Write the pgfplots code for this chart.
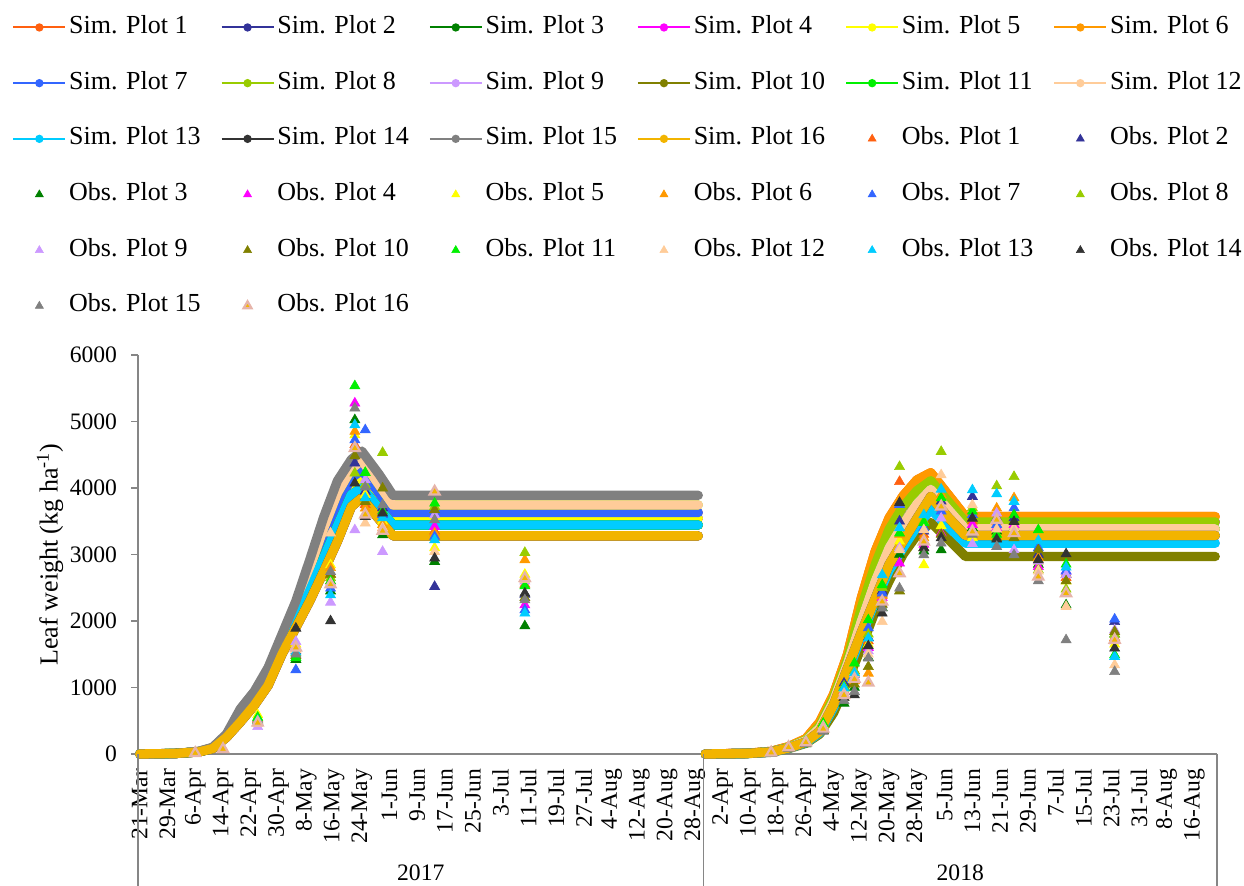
\documentclass[border=0pt]{standalone}
\usepackage{fontspec}
\setmainfont{Liberation Serif}
\usepackage{pgfplots}
\usepackage{pgfplotstable}
\pgfplotsset{compat=1.18}

\definecolor{c1}{HTML}{FF6010}
\definecolor{c2}{HTML}{333399}
\definecolor{c3}{HTML}{008000}
\definecolor{c4}{HTML}{FF00FF}
\definecolor{c5}{HTML}{FFFF00}
\definecolor{c6}{HTML}{FF9900}
\definecolor{c7}{HTML}{3366FF}
\definecolor{c8}{HTML}{99CC00}
\definecolor{c9}{HTML}{CC99FF}
\definecolor{c10}{HTML}{808000}
\definecolor{c11}{HTML}{00F000}
\definecolor{c12}{HTML}{FFCC99}
\definecolor{c13}{HTML}{00CCFF}
\definecolor{c14}{HTML}{333333}
\definecolor{c15}{HTML}{808080}
\definecolor{c16}{HTML}{F2B400}
\definecolor{o16edge}{HTML}{E6B4AA}
\definecolor{axgray}{HTML}{868686}

\pgfplotstableread{
x s1 s2 s3 s4 s5 s6 s7 s8 s9 s10 s11 s12 s13 s14 s15 s16
0 0 0 0 0 0 0 0 0 0 0 0 0 0 0 0 0
10 5 6 7 6 6 7 5 5 8 7 7 5 7 8 5 8
17 36 34 32 34 34 32 36 38 30 32 32 38 32 30 40 30
21 92 88 85 88 88 85 92 95 80 85 85 95 85 80 100 80
25 275 268 260 268 268 260 275 285 250 260 260 285 260 250 300 250
29 600 560 530 560 560 530 600 640 480 530 530 640 530 480 680 480
33 850 815 785 815 815 785 850 898 730 785 785 898 785 730 940 730
37 1190 1140 1100 1140 1140 1100 1190 1246 1030 1100 1100 1246 1100 1030 1300 1030
41 1680 1620 1575 1620 1620 1575 1680 1740 1500 1575 1575 1740 1575 1500 1800 1500
45 2140 2060 2000 2060 2060 2000 2140 2220 1900 2000 2000 2220 2000 1900 2300 1900
49 2670 2550 2455 2550 2550 2455 2670 2796 2300 2455 2455 2796 2455 2300 2920 2300
53 3230 3070 2945 3070 3070 2945 3230 3396 2740 2945 2945 3396 2945 2740 3560 2740
57 3750 3560 3430 3560 3560 3430 3750 3928 3200 3430 3430 3928 3430 3200 4110 3200
61 4150 4000 3900 4000 4000 3900 4150 4288 3720 3900 3900 4288 3900 3720 4430 3720
64 4270 4120 4000 4120 4120 4000 4270 4420 3850 4000 4000 4420 4000 3850 4555 3850
69 3920 3800 3690 3800 3800 3690 3920 4045 3530 3690 3690 4045 3690 3530 4205 3530
73 3630 3545 3444 3545 3545 3444 3630 3745 3280 3444 3444 3745 3444 3280 3890 3280
161 3630 3545 3444 3545 3545 3444 3630 3745 3280 3444 3444 3745 3444 3280 3890 3280
162 nan nan nan nan nan nan nan nan nan nan nan nan nan nan nan nan
163 0 0 0 0 0 0 0 0 0 0 0 0 0 0 0 0
175 10 9 8 9 8 10 8 9 7 6 8 8 7 8 8 8
182 40 35 33 35 33 40 30 35 28 25 33 33 28 30 30 30
187 110 100 95 100 95 110 90 100 85 80 95 95 85 90 90 90
192 230 210 200 210 200 230 180 210 170 160 200 200 170 180 180 180
196 480 420 390 420 390 480 340 420 320 300 390 390 320 340 340 340
200 900 850 800 850 800 900 740 850 700 620 800 800 700 740 740 740
204 1500 1420 1360 1420 1360 1500 1290 1420 1220 1100 1360 1360 1220 1290 1290 1290
208 2350 2200 2000 2200 2000 2350 1830 2200 1780 1600 2000 2000 1780 1830 1830 1830
212 3050 2850 2600 2850 2600 3050 2340 2850 2300 2150 2600 2600 2300 2340 2340 2340
216 3550 3380 3100 3380 3100 3550 2850 3380 2760 2600 3100 3100 2760 2850 2850 2850
220 3880 3720 3450 3720 3450 3880 3200 3720 3100 3000 3450 3450 3100 3200 3200 3200
224 4120 3960 3760 3960 3760 4120 3540 3960 3420 3290 3760 3760 3420 3540 3540 3540
228 4230 4110 3980 4110 3980 4230 3870 4110 3680 3480 3980 3980 3680 3870 3870 3870
233 3900 3800 3680 3800 3680 3900 3560 3800 3420 3230 3680 3680 3420 3560 3560 3560
238 3570 3490 3385 3490 3385 3570 3285 3490 3170 2970 3385 3385 3170 3285 3285 3285
310 3570 3490 3385 3490 3385 3570 3285 3490 3170 2970 3385 3385 3170 3285 3285 3285
}\simdata

\pgfplotstableread{
x o1 o2 o3 o4 o5 o6 o7 o8 o9 o10 o11 o12 o13 o14 o15 o16
16 10 12 8 10 15 10 9 11 10 8 12 10 9 10 11 12
24 70 75 65 70 80 72 68 74 66 70 78 72 70 69 71 73
34 520 480 500 530 590 510 470 540 410 490 550 460 500 480 470 470
45 1600 1550 1420 1620 1650 1580 1265 1520 1690 1480 1450 1565 1530 1890 1500 1600
55 2700 2550 2450 2600 2842 2800 2492 2650 2281 2700 2602 3320 2391 2000 2742 2550
62 4650 4372 5024 5275 4798 4850 4723 4222 3369 4482 5535 4600 4948 4071 5200 4598
65 3750 3950 3850 3900 3900 3695 4873 4050 4121 3795 4232 3470 3850 3570 4011 3600
70 3400 3700 3294 3650 3500 3450 3600 4532 3043 3996 3650 3400 3550 3620 3745 3354
85 3350 2517 2893 3420 3100 3320 3270 3720 3595 3670 3770 3043 3219 2943 3520 3945
111 2550 2400 1925 2240 2700 2918 2165 3028 2600 2350 2527 2620 2116 2417 2316 2643
182 15 20 10 18 25 15 12 20 16 10 22 18 14 15 12 20
187 95 100 85 105 110 100 90 105 95 80 110 100 95 90 85 100
192 170 175 150 180 200 175 165 185 170 150 200 180 170 160 155 175
197 400 420 350 410 430 400 380 440 390 350 460 420 400 370 340 380
203 950 1063 762 950 980 900 1000 1020 930 850 1000 940 990 850 800 887
206 1250 1200 1000 1150 1230 1100 1188 1250 1150 1050 1364 1200 1220 887 937 1128
210 1700 1750 1450 1600 1650 1213 1895 1800 1550 1313 2015 1500 1740 1624 1439 1073
214 2400 2450 2200 2350 2300 2380 2417 2500 2250 2250 2542 1990 2692 2116 2191 2291
219 4095 3500 3000 2868 3200 3300 3750 4320 3100 2450 3320 3068 3400 3780 2492 2717
226 3300 3350 3050 3150 2843 3250 3400 3500 3200 3100 3480 3369 3595 3100 2993 3193
231 3700 3800 3068 3319 3430 3900 3650 4547 3545 3300 3850 4196 3980 3250 3169 3720
240 3500 3870 3400 3450 3250 3550 3600 3700 3158 3350 3650 3745 3970 3544 3300 3344
247 3500 3550 3350 3400 3300 3695 3450 4030 3620 3250 3300 3380 3910 3229 3118 3520
252 3600 3550 3400 3450 3350 3850 3700 4170 3068 3250 3595 3400 3795 3494 2993 3320
259 2950 3000 2850 2818 2900 2950 3100 2767 2900 3068 3369 2750 3208 2918 2602 2667
267 2650 2700 2240 2750 2600 2700 2750 2477 2692 2602 2853 2216 2808 3008 1715 2417
281 1750 1990 1800 1700 1650 1740 2026 1800 1865 1840 1489 1339 1464 1590 1238 1715
}\obsdata

\pgfplotsset{
  simleg/.style={legend image code/.code={
      \draw[##1, line width=1pt, line cap=butt] (0pt,0pt) -- (26pt,0pt);
      \fill[##1, draw=none] (13pt,0pt) circle (2.1pt);}},
  obsleg/.style={legend image code/.code={
      \path[draw=none, fill=none] (0pt,0pt) -- (26pt,0pt);
      \draw[##1, mark size=2.3pt] plot coordinates {(13pt,0pt)};}},
  simS/.style={color=#1, line width=4.65pt, line cap=round, line join=round, mark=none, simleg},
  obsS/.style={color=#1, only marks, mark=triangle*, mark size=2.9pt,
      mark options={solid, fill=#1, draw=#1, line width=0.3pt}, obsleg},
}
\newcommand{\lgt}[1]{\makebox[77.1pt][l]{\hspace{1.4pt}#1}}

\begin{document}
\begin{tikzpicture}
\path[use as bounding box] (0pt,0pt) rectangle (622pt,443pt);
\begin{axis}[
  at={(69pt,66pt)}, anchor=south west,
  width=539.5pt, height=199.5pt, scale only axis,
  xmin=-0.5, xmax=310.5, ymin=0, ymax=6000,
  axis lines*=left,
  axis line style={draw=axgray, line width=0.6pt},
  clip=false,
  unbounded coords=jump,
  xtick={0,8,...,304},
  xticklabels={21-Mar,29-Mar,6-Apr,14-Apr,22-Apr,30-Apr,8-May,16-May,24-May,1-Jun,9-Jun,17-Jun,25-Jun,3-Jul,11-Jul,19-Jul,27-Jul,4-Aug,12-Aug,20-Aug,28-Aug,2-Apr,10-Apr,18-Apr,26-Apr,4-May,12-May,20-May,28-May,5-Jun,13-Jun,21-Jun,29-Jun,7-Jul,15-Jul,23-Jul,31-Jul,8-Aug,16-Aug},
  xtick style={draw=none},
  x tick label style={rotate=90, anchor=east, font=\fontsize{11.8}{13}\selectfont, inner sep=0pt},
  xticklabel shift=4pt,
  ytick={0,1000,...,6000},
  ytick style={draw=axgray, line width=0.6pt},
  tick align=outside, major tick length=3.3pt,
  y tick label style={font=\fontsize{11.8}{13}\selectfont, inner sep=0pt},
  yticklabel shift=7pt,
  /pgf/number format/assume math mode=true,
  /pgf/number format/set thousands separator={},
  ylabel={Leaf weight (kg ha\textsuperscript{-1})},
  every axis y label/.style={at={(axis description cs:-0.0816,0.5)}, rotate=90, anchor=center, font=\fontsize{13}{15}\selectfont},
  legend columns=6,
  legend cell align=left,
  legend style={at={(-0.1168,1.852)}, anchor=north west, draw=none, fill=none,
    inner xsep=0pt, inner ysep=0pt, font=\fontsize{13}{15}\selectfont, row sep=15.85pt,
    nodes={inner sep=0pt, text height=9pt, text depth=3pt}},
]
\addplot[simS=c1] table[x=x,y=s1]{\simdata}; \addlegendentry{\lgt{Sim. Plot 1}}
\addplot[simS=c2] table[x=x,y=s2]{\simdata}; \addlegendentry{\lgt{Sim. Plot 2}}
\addplot[simS=c3] table[x=x,y=s3]{\simdata}; \addlegendentry{\lgt{Sim. Plot 3}}
\addplot[simS=c4] table[x=x,y=s4]{\simdata}; \addlegendentry{\lgt{Sim. Plot 4}}
\addplot[simS=c5] table[x=x,y=s5]{\simdata}; \addlegendentry{\lgt{Sim. Plot 5}}
\addplot[simS=c6] table[x=x,y=s6]{\simdata}; \addlegendentry{\lgt{Sim. Plot 6}}
\addplot[simS=c7] table[x=x,y=s7]{\simdata}; \addlegendentry{\lgt{Sim. Plot 7}}
\addplot[simS=c8] table[x=x,y=s8]{\simdata}; \addlegendentry{\lgt{Sim. Plot 8}}
\addplot[simS=c9] table[x=x,y=s9]{\simdata}; \addlegendentry{\lgt{Sim. Plot 9}}
\addplot[simS=c10] table[x=x,y=s10]{\simdata}; \addlegendentry{\lgt{Sim. Plot 10}}
\addplot[simS=c11] table[x=x,y=s11]{\simdata}; \addlegendentry{\lgt{Sim. Plot 11}}
\addplot[simS=c12] table[x=x,y=s12]{\simdata}; \addlegendentry{\lgt{Sim. Plot 12}}
\addplot[simS=c13] table[x=x,y=s13]{\simdata}; \addlegendentry{\lgt{Sim. Plot 13}}
\addplot[simS=c14] table[x=x,y=s14]{\simdata}; \addlegendentry{\lgt{Sim. Plot 14}}
\addplot[simS=c15] table[x=x,y=s15]{\simdata}; \addlegendentry{\lgt{Sim. Plot 15}}
\addplot[simS=c16] table[x=x,y=s16]{\simdata}; \addlegendentry{\lgt{Sim. Plot 16}}
\addplot[obsS=c1] table[x=x,y=o1]{\obsdata}; \addlegendentry{\lgt{Obs. Plot 1}}
\addplot[obsS=c2] table[x=x,y=o2]{\obsdata}; \addlegendentry{\lgt{Obs. Plot 2}}
\addplot[obsS=c3] table[x=x,y=o3]{\obsdata}; \addlegendentry{\lgt{Obs. Plot 3}}
\addplot[obsS=c4] table[x=x,y=o4]{\obsdata}; \addlegendentry{\lgt{Obs. Plot 4}}
\addplot[obsS=c5] table[x=x,y=o5]{\obsdata}; \addlegendentry{\lgt{Obs. Plot 5}}
\addplot[obsS=c6] table[x=x,y=o6]{\obsdata}; \addlegendentry{\lgt{Obs. Plot 6}}
\addplot[obsS=c7] table[x=x,y=o7]{\obsdata}; \addlegendentry{\lgt{Obs. Plot 7}}
\addplot[obsS=c8] table[x=x,y=o8]{\obsdata}; \addlegendentry{\lgt{Obs. Plot 8}}
\addplot[obsS=c9] table[x=x,y=o9]{\obsdata}; \addlegendentry{\lgt{Obs. Plot 9}}
\addplot[obsS=c10] table[x=x,y=o10]{\obsdata}; \addlegendentry{\lgt{Obs. Plot 10}}
\addplot[obsS=c11] table[x=x,y=o11]{\obsdata}; \addlegendentry{\lgt{Obs. Plot 11}}
\addplot[obsS=c12] table[x=x,y=o12]{\obsdata}; \addlegendentry{\lgt{Obs. Plot 12}}
\addplot[obsS=c13] table[x=x,y=o13]{\obsdata}; \addlegendentry{\lgt{Obs. Plot 13}}
\addplot[obsS=c14] table[x=x,y=o14]{\obsdata}; \addlegendentry{\lgt{Obs. Plot 14}}
\addplot[obsS=c15] table[x=x,y=o15]{\obsdata}; \addlegendentry{\lgt{Obs. Plot 15}}
\addplot[obsS=c16, mark options={solid, fill=c16, draw=o16edge, line width=1.1pt}] table[x=x,y=o16]{\obsdata}; \addlegendentry{\lgt{Obs. Plot 16}}
\draw[axgray, line width=0.6pt] (rel axis cs:0,0) -- ++(0pt,-66pt);
\draw[axgray, line width=0.6pt] (axis cs:162.5,0) -- ++(0pt,-66pt);
\draw[axgray, line width=0.6pt] (rel axis cs:1,0) -- ++(0pt,-66pt);
\node[font=\fontsize{11.8}{13}\selectfont] at (axis cs:81,0) [yshift=-59.5pt] {2017};
\node[font=\fontsize{11.8}{13}\selectfont] at (axis cs:236.5,0) [yshift=-59.5pt] {2018};
\end{axis}
\end{tikzpicture}
\end{document}
